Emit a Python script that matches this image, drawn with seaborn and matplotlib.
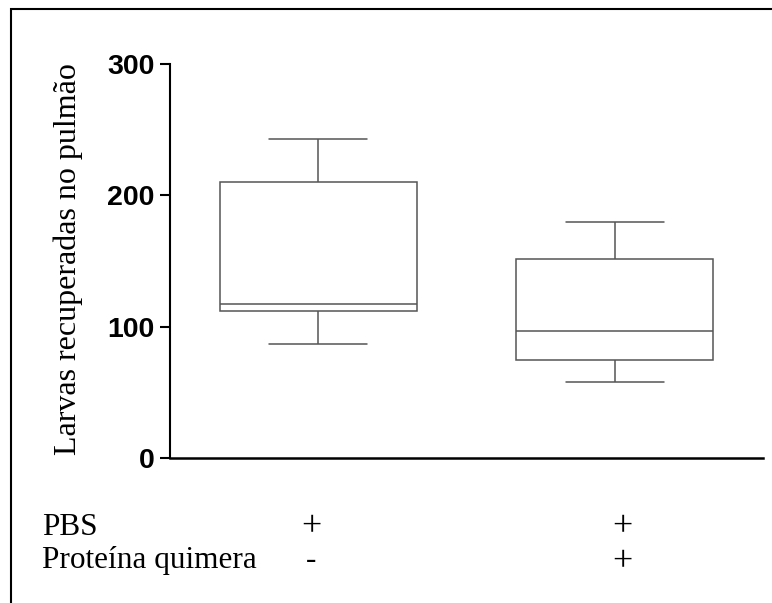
import pandas as pd
import matplotlib
matplotlib.use("Agg")
import matplotlib.pyplot as plt
import seaborn as sns

# Five-number summaries (min, Q1, median, Q3, max)
groups = ["PBS", "PBS + Proteína quimera"]
pbs_values = [86.5, 111.7, 117.0, 209.9, 242.7]
quimera_values = [58.0, 74.6, 96.4, 151.4, 179.4]

# Condition table under the plot (one list of signs per group, rows in order)
row_labels = ["PBS", "Proteína quimera"]
group_signs = [["+", "-"], ["+", "+"]]

df = pd.DataFrame({
    "grupo": [groups[0]] * len(pbs_values) + [groups[1]] * len(quimera_values),
    "larvas": pbs_values + quimera_values,
})

sns.set_style("ticks")
plt.rcParams["font.family"] = ["Liberation Sans", "DejaVu Sans"]

fig = plt.figure(figsize=(7.72, 6.03), dpi=100)
ax = fig.add_axes([170 / 772, 1 - 458 / 603, 593 / 772, 394 / 603])

sns.boxplot(
    data=df, x="grupo", y="larvas", ax=ax,
    whis=(0, 100), width=0.664, color="white",
    linecolor="#555555", linewidth=1.1, showfliers=False,
)

ax.set_xlim(-0.5, 1.5)
ax.set_ylim(0, 300)
ax.set_yticks([0, 100, 200, 300])
ax.set_xticks([])
ax.set_xlabel("")
ax.set_ylabel("")
for lab in ax.get_yticklabels():
    lab.set_fontweight("bold")
    lab.set_fontsize(20.5)
    lab.set_color("black")
ax.tick_params(axis="y", length=7, width=1.5, color="black", pad=4)
sns.despine(ax=ax)
ax.spines["left"].set_linewidth(1.5)
ax.spines["bottom"].set_linewidth(1.8)
ax.spines["left"].set_color("black")
ax.spines["bottom"].set_color("black")

serif = ["Liberation Serif", "DejaVu Serif"]
fig.text(68 / 772, 1 - 259 / 603, "Larvas recuperadas no pulmão",
         rotation=90, ha="center", va="center", fontsize=23, family=serif,
         color="black")

# condition table
row_base = [535, 568]
plus_base = [536, 571]
col_x = [311, 622]
for i, label in enumerate(row_labels):
    y = 1 - row_base[i] / 603
    fig.text(42 / 772, y, label, ha="left", va="baseline", fontsize=22.5,
             family=serif, color="black")
    for j, signs in enumerate(group_signs):
        s = signs[i]
        if s == "+":
            fig.text(col_x[j] / 772, 1 - plus_base[i] / 603, s, ha="center",
                     va="baseline", fontsize=26, family=serif, color="black")
        else:
            fig.text(col_x[j] / 772, y, s, ha="center", va="baseline",
                     fontsize=22.5, family=serif, color="black")

# frame around the figure (cropped at right and bottom)
fig.add_artist(plt.Rectangle((11 / 772, -0.1), 1.2, (1 - 9 / 603) + 0.1,
                             transform=fig.transFigure, fill=False,
                             lw=1.5, ec="black"))

fig.savefig("out.png", dpi=100, facecolor="white")
